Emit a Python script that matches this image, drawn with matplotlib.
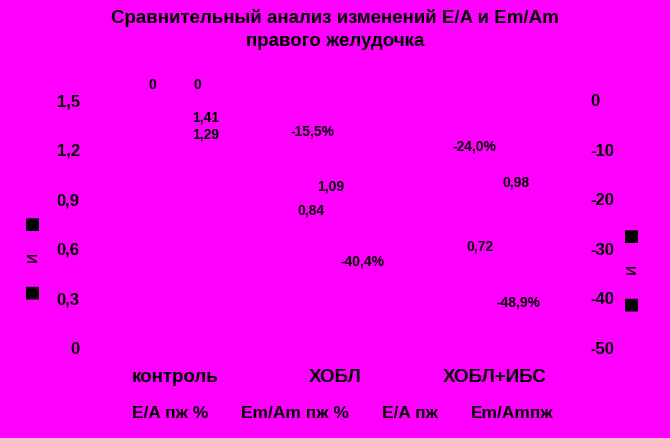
import matplotlib.pyplot as plt
import numpy as np

# data
categories = ["контроль", "ХОБЛ", "ХОБЛ+ИБС"]
ea = [1.41, 0.84, 0.72]            # E/A пж
emam = [1.29, 1.09, 0.98]          # Em/Am пж
ea_pct = [0, -40.4, -48.9]         # E/A пж %
emam_pct = [0, -15.5, -24.0]       # Em/Am пж %
left_ticks = [0, 0.3, 0.6, 0.9, 1.2, 1.5]
right_ticks = [-50, -40, -30, -20, -10, 0]

# label placement (data units), labels were hand-moved in the original
ea_lbl = [(0.19, 1.397), (0.85, 0.829), (1.906, 0.617)]
emam_lbl = [(0.19, 1.289), (0.97, 0.98), (2.13, 1.004)]
ea_pct_lbl = [(0.14, 3.0), (1.17, -32.5), (2.15, -40.9)]
emam_pct_lbl = [(-0.14, 3.0), (0.86, -6.25), (1.87, -9.3)]

BG = "#FF00FF"
plt.rcParams["font.family"] = ["Liberation Sans", "DejaVu Sans"]
plt.rcParams["font.weight"] = "bold"

fig = plt.figure(figsize=(6.7, 4.38), dpi=100, facecolor=BG)
ax = fig.add_axes([0.142, 0.2055, 0.716, 0.566])
ax2 = ax.twinx()
ax2.set_facecolor(BG)
ax.set_zorder(ax2.get_zorder() + 1)
ax.patch.set_visible(False)

x = np.arange(len(categories))
w = 0.27
# bars and lines are the same colour as the background in the original
b1 = ax2.bar(x + 0.14, ea_pct, w, color=BG, label="E/A пж %")
b2 = ax2.bar(x - 0.14, emam_pct, w, color=BG, label="Em/Am пж %")
l1, = ax.plot(x, ea, color=BG, label="E/A пж")
l2, = ax.plot(x, emam, color=BG, label="Em/Amпж")

def fmt(v, pct=False):
    if v == 0:
        return "0"
    s = f"{v:.1f}" if pct else f"{v:.2f}"
    s = s.replace(".", ",")
    return s + "%" if pct else s

for v, (px, py) in zip(ea, ea_lbl):
    ax.text(px, py, fmt(v), ha="center", va="center", fontsize=10, zorder=5)
for v, (px, py) in zip(emam, emam_lbl):
    ax.text(px, py, fmt(v), ha="center", va="center", fontsize=10, zorder=5)
for v, (px, py) in zip(ea_pct, ea_pct_lbl):
    ax2.text(px, py, fmt(v, True), ha="center", va="center", fontsize=10, zorder=5)
for v, (px, py) in zip(emam_pct, emam_pct_lbl):
    ax2.text(px, py, fmt(v, True), ha="center", va="center", fontsize=10, zorder=5)

ax.set_xlim(-0.5, 2.5)
ax.set_ylim(0, 1.5)
ax2.set_ylim(-50, 0)
ax.set_xticks(x)
ax.set_xticklabels(categories, fontsize=13.5, fontweight="bold")
ax.set_yticks(left_ticks)
ax.set_yticklabels([f"{t:g}".replace(".", ",") for t in left_ticks],
                   fontsize=12, fontweight="bold")
ax2.set_yticks(right_ticks)
ax2.set_yticklabels([str(t) for t in right_ticks], fontsize=12, fontweight="bold")
ax.tick_params(axis="x", length=0, pad=15)
ax.tick_params(axis="y", length=0, pad=11)
ax2.tick_params(axis="y", length=0, pad=11)
for a in (ax, ax2):
    for s in a.spines.values():
        s.set_visible(False)

ax.set_ylabel("■    и    ■", fontsize=12, family=["DejaVu Sans"])
ax.yaxis.set_label_coords(-0.11, 0.363)
ax2.set_ylabel("■    и    ■", fontsize=12, rotation=90, family=["DejaVu Sans"])
ax2.yaxis.set_label_coords(1.10, 0.315)

fig.text(0.5, 0.958, "Сравнительный анализ изменений E/A и Em/Am",
         ha="center", va="center", fontsize=13.5, fontweight="bold")
fig.text(0.5, 0.905, "правого желудочка",
         ha="center", va="center", fontsize=13.5, fontweight="bold")

fig.legend([b1, b2, l1, l2], ["E/A пж %", "Em/Am пж %", "E/A пж", "Em/Amпж"],
           loc="center", bbox_to_anchor=(0.512, 0.055), ncol=4,
           frameon=False, handlelength=0, handletextpad=0,
           columnspacing=1.9, prop={"size": 12.5, "weight": "bold"})

fig.savefig("out.png", dpi=100, facecolor=BG)
